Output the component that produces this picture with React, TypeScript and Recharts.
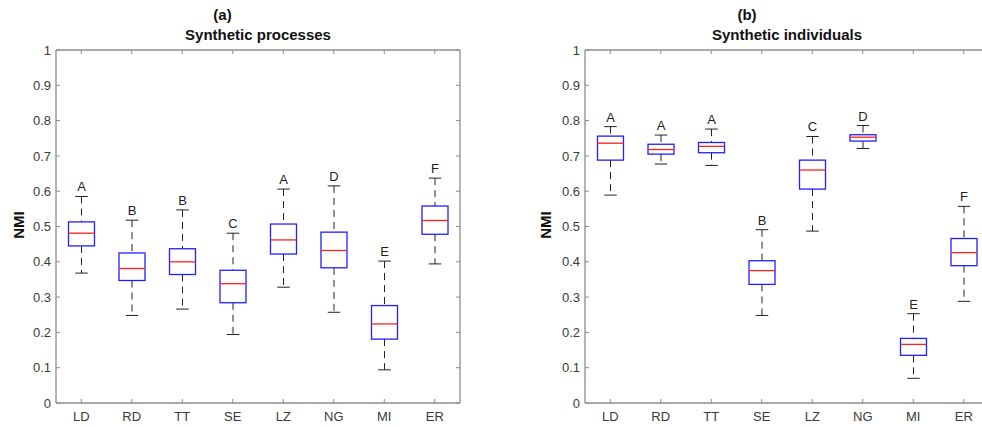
import React from "react";
import { ComposedChart, Bar, XAxis, YAxis } from "recharts";

const categories = ["LD", "RD", "TT", "SE", "LZ", "NG", "MI", "ER"];
const yTicks = [0, 0.1, 0.2, 0.3, 0.4, 0.5, 0.6, 0.7, 0.8, 0.9, 1];

// Panel (a) Synthetic processes
const aLow = [0.368, 0.248, 0.266, 0.194, 0.328, 0.257, 0.094, 0.394];
const aQ1 = [0.445, 0.347, 0.364, 0.284, 0.422, 0.383, 0.181, 0.478];
const aMed = [0.481, 0.381, 0.4, 0.338, 0.462, 0.432, 0.224, 0.517];
const aQ3 = [0.513, 0.425, 0.437, 0.376, 0.507, 0.484, 0.276, 0.558];
const aHigh = [0.585, 0.518, 0.547, 0.481, 0.606, 0.615, 0.402, 0.637];
const aLetters = ["A", "B", "B", "C", "A", "D", "E", "F"];

// Panel (b) Synthetic individuals
const bLow = [0.589, 0.677, 0.673, 0.248, 0.487, 0.721, 0.07, 0.288];
const bQ1 = [0.688, 0.705, 0.709, 0.336, 0.606, 0.742, 0.135, 0.389];
const bMed = [0.736, 0.718, 0.727, 0.375, 0.66, 0.753, 0.166, 0.426];
const bQ3 = [0.756, 0.733, 0.738, 0.403, 0.688, 0.76, 0.183, 0.466];
const bHigh = [0.783, 0.759, 0.776, 0.491, 0.755, 0.786, 0.253, 0.557];
const bLetters = ["A", "A", "A", "B", "C", "D", "E", "F"];

const FONT = "'Liberation Sans', Arial, Helvetica, sans-serif";
const AX = "#8c8c8c";
const TXT = "#3a3a3a";

function build(low: number[], q1: number[], med: number[], q3: number[], high: number[], letters: string[]) {
  return categories.map((c, i) => ({
    cat: c,
    low: low[i],
    q1: q1[i],
    med: med[i],
    q3: q3[i],
    high: high[i],
    letter: letters[i],
    range: [low[i], high[i]],
  }));
}

const dataA = build(aLow, aQ1, aMed, aQ3, aHigh, aLetters);
const dataB = build(bLow, bQ1, bMed, bQ3, bHigh, bLetters);

const BoxShape = (props: any) => {
  const { x, y, width, height, payload } = props;
  if (payload == null || x == null) return null;
  const { low, q1, med, q3, high, letter } = payload;
  const span = high - low;
  const py = (v: number) => y + (height * (high - v)) / span;
  const cx = x + width / 2;
  const bw = 26;
  const cw = 12.5;
  return (
    <g>
      <line x1={cx} x2={cx} y1={py(high)} y2={py(q3)} stroke="#222" strokeWidth={1} strokeDasharray="7 5" />
      <line x1={cx} x2={cx} y1={py(q1)} y2={py(low)} stroke="#222" strokeWidth={1} strokeDasharray="7 5" />
      <line x1={cx - cw / 2} x2={cx + cw / 2} y1={py(high)} y2={py(high)} stroke="#222" strokeWidth={1} />
      <line x1={cx - cw / 2} x2={cx + cw / 2} y1={py(low)} y2={py(low)} stroke="#222" strokeWidth={1} />
      <rect x={cx - bw / 2} y={py(q3)} width={bw} height={py(q1) - py(q3)} fill="none" stroke="#2020ff" strokeWidth={1.3} />
      <line x1={cx - bw / 2} x2={cx + bw / 2} y1={py(med)} y2={py(med)} stroke="#ff2020" strokeWidth={1.3} />
      <text x={cx} y={py(high) - 5} textAnchor="middle" fontFamily={FONT} fontSize={13} fill="#222">
        {letter}
      </text>
    </g>
  );
};

const LeftTick = (p: any) => (
  <g>
    <line x1={p.x} x2={p.x + 4} y1={p.y} y2={p.y} stroke={AX} strokeWidth={1} />
    <text x={p.x - 5} y={p.y} dy="0.36em" textAnchor="end" fontFamily={FONT} fontSize={13} fill={TXT}>
      {String(p.payload.value)}
    </text>
  </g>
);

const RightTick = (p: any) => (
  <line x1={p.x} x2={p.x - 4} y1={p.y} y2={p.y} stroke={AX} strokeWidth={1} />
);

const BottomTick = (p: any) => (
  <g>
    <line x1={p.x} x2={p.x} y1={p.y} y2={p.y - 4} stroke={AX} strokeWidth={1} />
    <text x={p.x} y={p.y + 18} textAnchor="middle" fontFamily={FONT} fontSize={13} fill={TXT}>
      {p.payload.value}
    </text>
  </g>
);

const TopTick = (p: any) => (
  <line x1={p.x} x2={p.x} y1={p.y} y2={p.y + 4} stroke={AX} strokeWidth={1} />
);

function Panel({ data, width, margin }: { data: any[]; width: number; margin: any }) {
  return (
    <ComposedChart width={width} height={427} data={data} margin={margin} barCategoryGap={0}>
      <XAxis
        dataKey="cat"
        xAxisId="bottom"
        orientation="bottom"
        height={1}
        tickSize={0}
        tickMargin={0}
        interval={0}
        axisLine={{ stroke: AX, strokeWidth: 1.3 }}
        tickLine={false}
        tick={BottomTick}
      />
      <XAxis
        dataKey="cat"
        xAxisId="top"
        orientation="top"
        height={1}
        tickSize={0}
        tickMargin={0}
        interval={0}
        axisLine={{ stroke: AX, strokeWidth: 1.3 }}
        tickLine={false}
        tick={TopTick}
      />
      <YAxis
        yAxisId="left"
        orientation="left"
        width={1}
        domain={[0, 1]}
        ticks={yTicks}
        interval={0}
        tickSize={0}
        tickMargin={0}
        axisLine={{ stroke: AX, strokeWidth: 1.3 }}
        tickLine={false}
        tick={LeftTick}
        allowDataOverflow
      />
      <YAxis
        yAxisId="right"
        orientation="right"
        width={1}
        domain={[0, 1]}
        ticks={yTicks}
        interval={0}
        tickSize={0}
        tickMargin={0}
        axisLine={{ stroke: AX, strokeWidth: 1.3 }}
        tickLine={false}
        tick={RightTick}
        allowDataOverflow
      />
      <Bar
        dataKey="range"
        xAxisId="bottom"
        yAxisId="left"
        isAnimationActive={false}
        shape={<BoxShape />}
      />
    </ComposedChart>
  );
}

export default function App() {
  const titleStyle = { fontFamily: FONT, fontSize: 15, fontWeight: "bold" as const, fill: "#111" };
  return (
    <div style={{ position: "absolute", left: 0, top: 0, width: 982, height: 427, overflow: "hidden", background: "#fff" }}>
      <div style={{ position: "absolute", left: 0, top: 0 }}>
        <Panel data={dataA} width={491} margin={{ top: 49, right: 30, bottom: 23, left: 55 }} />
      </div>
      <div style={{ position: "absolute", left: 491, top: 0 }}>
        <Panel data={dataB} width={520} margin={{ top: 49, right: 21, bottom: 23, left: 93 }} />
      </div>
      <svg width={982} height={427} style={{ position: "absolute", left: 0, top: 0, pointerEvents: "none" }}>
        <text x={222.5} y={19.5} textAnchor="middle" {...titleStyle}>(a)</text>
        <text x={258} y={40} textAnchor="middle" {...titleStyle}>Synthetic processes</text>
        <text x={747} y={19.5} textAnchor="middle" {...titleStyle}>(b)</text>
        <text x={787} y={40} textAnchor="middle" {...titleStyle}>Synthetic individuals</text>
        <text x={0} y={0} textAnchor="middle" dy="0.36em" transform="translate(18.3,225) rotate(-90)" {...titleStyle}>NMI</text>
        <text x={0} y={0} textAnchor="middle" dy="0.36em" transform="translate(546,225) rotate(-90)" {...titleStyle}>NMI</text>
      </svg>
    </div>
  );
}
